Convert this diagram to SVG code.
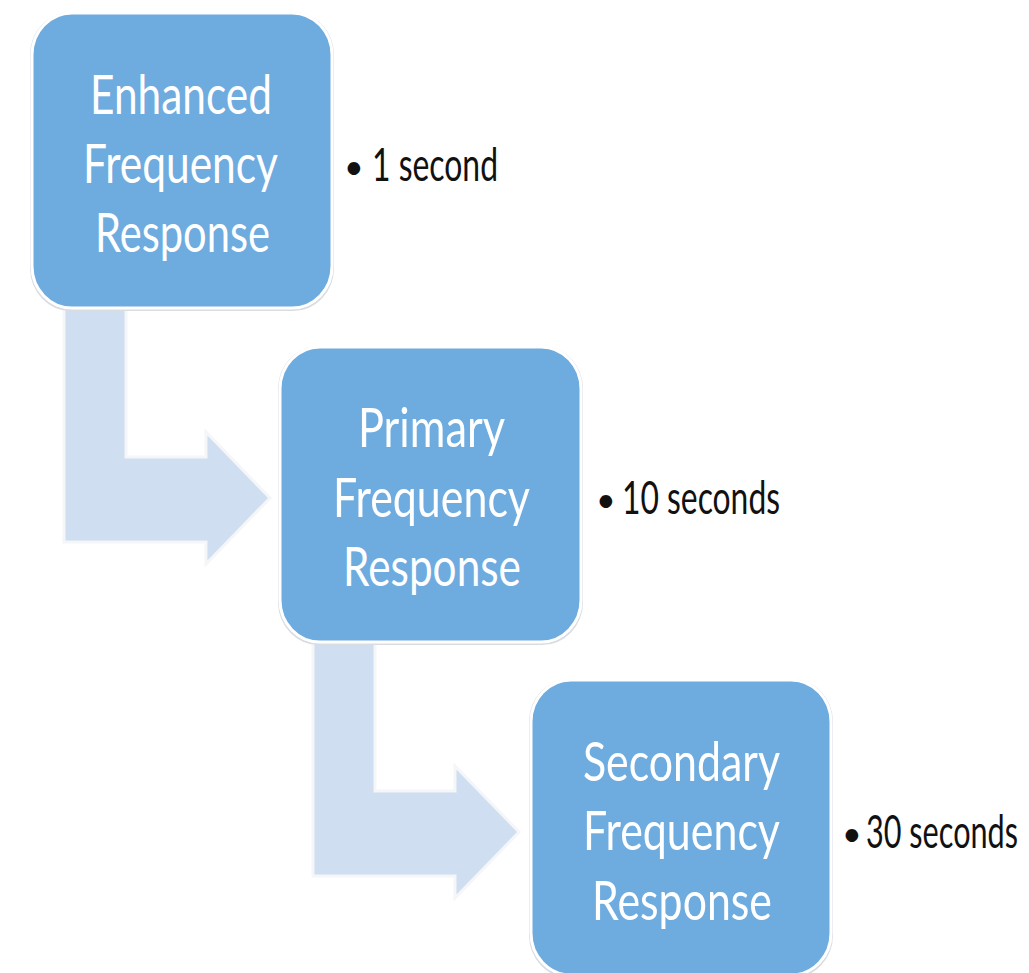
<svg xmlns="http://www.w3.org/2000/svg" width="1029" height="973" viewBox="0 0 1029 973">
<style>
.box{fill:#6eabdf;stroke:#ffffff;stroke-width:3}
.shadow{fill:none;stroke:#d9dde2;stroke-width:2}
.arrow{fill:#cfdff1;stroke:#f4f6f8;stroke-width:3}
.t{font-family:Lato,"Open Sans","Liberation Sans",sans-serif;font-size:54px;fill:#ffffff;text-anchor:start}
.l{font-family:Lato,"Open Sans","Liberation Sans",sans-serif;font-size:47px;fill:#111111}
.b{font-size:34px}
</style>
<rect width="1029" height="973" fill="#ffffff"/>
<g id="connectors">
<path class="arrow" d="M64,290 L126,290 L126,457 L206,457 L206,432 L270,498 L206,564 L206,542 L64,542 Z"/>
<path class="arrow" d="M313,624 L375,624 L375,791 L455,791 L455,766 L519,832 L455,898 L455,876 L313,876 Z"/>
</g>
<g id="node1">
<rect class="shadow" x="31" y="13" width="302" height="297" rx="40" ry="42"/>
<rect class="box" x="32" y="13" width="300" height="295" rx="40" ry="42"/>
<text class="t" x="90" y="114" textLength="182" lengthAdjust="spacingAndGlyphs">Enhanced</text>
<text class="t" x="83" y="183" textLength="195" lengthAdjust="spacingAndGlyphs">Frequency</text>
<text class="t" x="95" y="252" textLength="175" lengthAdjust="spacingAndGlyphs">Response</text>
</g>
<g id="label1">
<text class="l"><tspan class="b" x="344" y="179">•</tspan><tspan x="372" y="181" textLength="126" lengthAdjust="spacingAndGlyphs">1 second</tspan></text>
</g>
<g id="node2">
<rect class="shadow" x="279" y="347" width="303" height="297" rx="40" ry="42"/>
<rect class="box" x="280" y="347" width="301" height="295" rx="40" ry="42"/>
<text class="t" x="358" y="447" textLength="147" lengthAdjust="spacingAndGlyphs">Primary</text>
<text class="t" x="333" y="517" textLength="197" lengthAdjust="spacingAndGlyphs">Frequency</text>
<text class="t" x="343" y="586" textLength="178" lengthAdjust="spacingAndGlyphs">Response</text>
</g>
<g id="label2">
<text class="l"><tspan class="b" x="596" y="512">•</tspan><tspan x="622" y="514" textLength="158" lengthAdjust="spacingAndGlyphs">10 seconds</tspan></text>
</g>
<g id="node3">
<rect class="shadow" x="530" y="680" width="302" height="297" rx="40" ry="42"/>
<rect class="box" x="531" y="680" width="300" height="295" rx="40" ry="42"/>
<text class="t" x="583" y="781" textLength="197" lengthAdjust="spacingAndGlyphs">Secondary</text>
<text class="t" x="583" y="850" textLength="197" lengthAdjust="spacingAndGlyphs">Frequency</text>
<text class="t" x="592" y="920" textLength="180" lengthAdjust="spacingAndGlyphs">Response</text>
</g>
<g id="label3">
<text class="l"><tspan class="b" x="842" y="846">•</tspan><tspan x="866" y="848" textLength="152" lengthAdjust="spacingAndGlyphs">30 seconds</tspan></text>
</g>
</svg>
